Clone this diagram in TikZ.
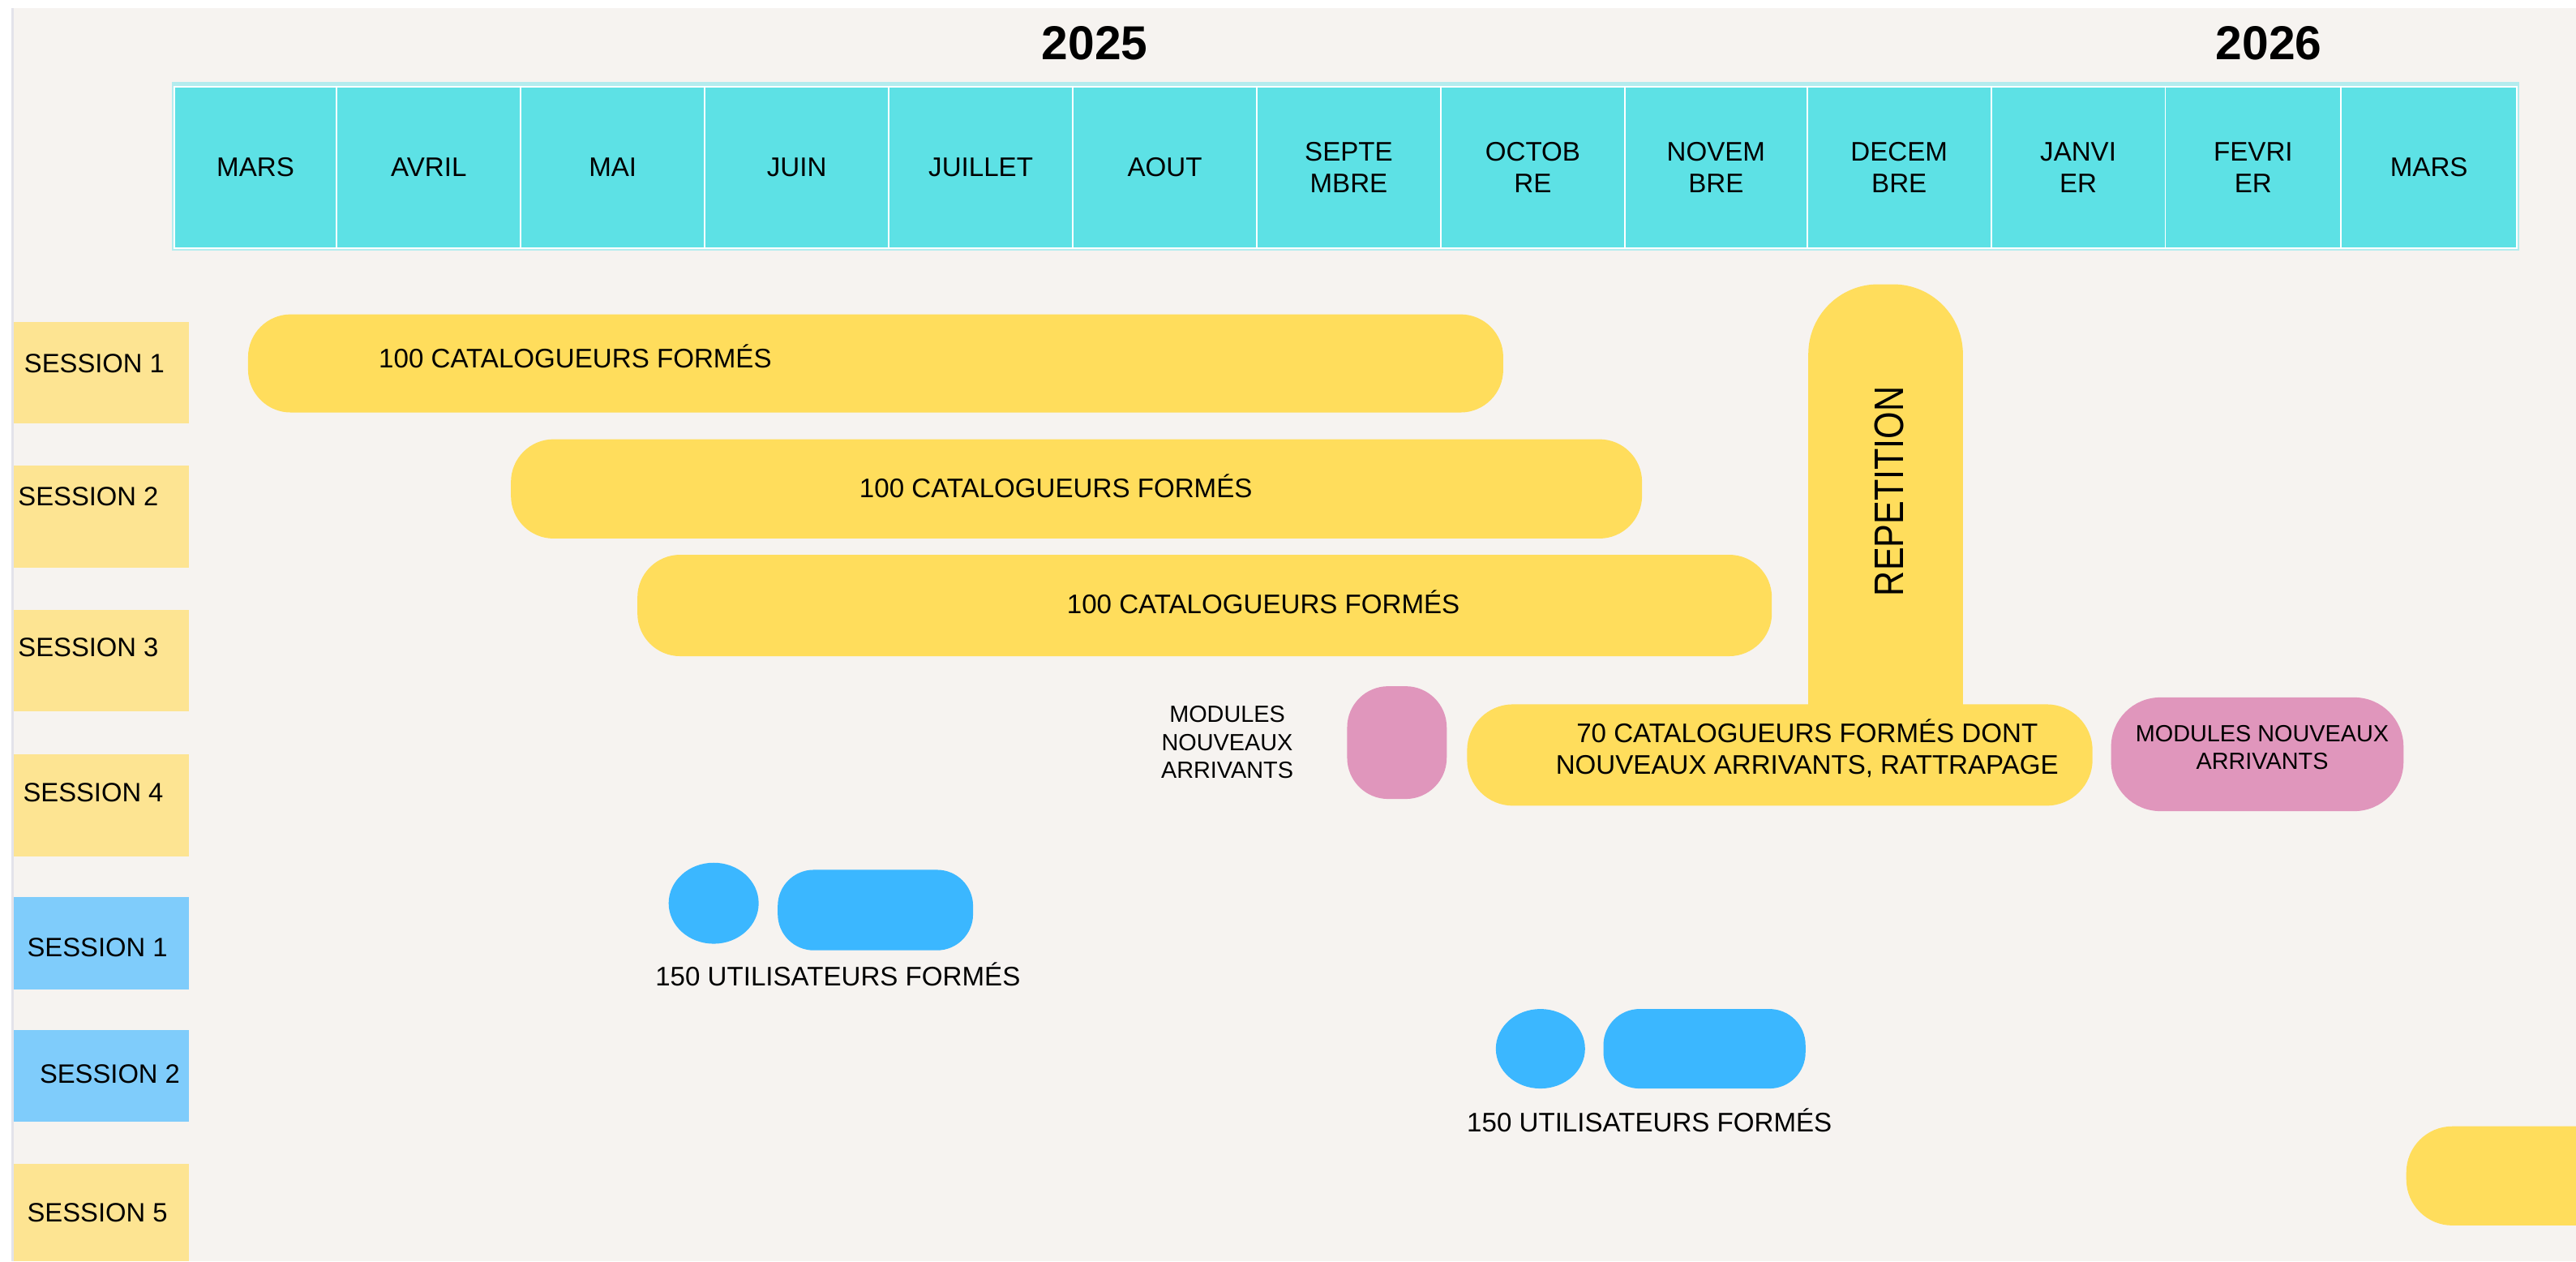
\documentclass[tikz,border=0pt]{standalone}
\usepackage{fontspec}
\usepackage{graphicx}
\setmainfont{Liberation Sans}
\usepackage{tikz}

\definecolor{bgbeige}{HTML}{F6F3F0}
\definecolor{edgegrey}{HTML}{E3E3EA}
\definecolor{hcyan}{HTML}{5DE1E5}
\definecolor{hpale}{HTML}{B3ECEE}
\definecolor{bary}{HTML}{FFDD5C}
\definecolor{sesy}{HTML}{FDE492}
\definecolor{sesb}{HTML}{7FCCFB}
\definecolor{ublue}{HTML}{3BB7FF}
\definecolor{mpink}{HTML}{E096BC}

\begin{document}
\begin{tikzpicture}[x=0.02cm, y=-0.02cm,
  every node/.style={inner sep=0pt, outer sep=0pt},
  month/.style={fill=hcyan, draw=white, line width=0.5pt, minimum height=1.966cm, align=center, font=\fontsize{9.3}{10.9}\selectfont},
  year/.style={font=\bfseries\fontsize{16.5}{20}\selectfont},
  sess/.style={anchor=west, font=\fontsize{9.2}{11}\selectfont, text height=6.6pt, text depth=0pt},
  info/.style={font=\fontsize{9.3}{11.2}\selectfont, text height=6.7pt, text depth=0pt},
  infotwo/.style={font=\fontsize{9.3}{11.2}\selectfont, align=center},
  mods/.style={font=\fontsize{8.1}{9.7}\selectfont, align=center}]
\useasboundingbox (0,0) rectangle (1568,767.5);
\clip (0,0) rectangle (1568,767.5);
\fill[white] (0,0) rectangle (1568,767.5);
\fill[bgbeige] (8.2,4.9) rectangle (1568,767.5);
\draw[edgegrey, line width=0.7pt] (7.6,4.9) -- (7.6,767.5);
% Years
\node[year] (y1) at (666.3,26.2) {2025};
\node[year] (y2) at (1381,26.2) {2026};
% Months
\fill[hpale] (104.6,49.7) rectangle (1533.5,152.5);
\node[month, minimum width=1.98cm] (m1) at (155.5,101.85) {MARS};
\node[month, minimum width=2.24cm] (m2) at (261,101.85) {AVRIL};
\node[month, minimum width=2.24cm] (m3) at (373,101.85) {MAI};
\node[month, minimum width=2.24cm] (m4) at (485,101.85) {JUIN};
\node[month, minimum width=2.24cm] (m5) at (597,101.85) {JUILLET};
\node[month, minimum width=2.24cm] (m6) at (709,101.85) {AOUT};
\node[month, minimum width=2.24cm] (m7) at (821,101.85) {SEPTE\\MBRE};
\node[month, minimum width=2.24cm] (m8) at (933,101.85) {OCTOB\\RE};
\node[month, minimum width=2.22cm] (m9) at (1044.5,101.85) {NOVEM\\BRE};
\node[month, minimum width=2.24cm] (m10) at (1156,101.85) {DECEM\\BRE};
\node[month, minimum width=2.12cm] (m11) at (1265,101.85) {JANVI\\ER};
\node[month, minimum width=2.14cm] (m12) at (1371.5,101.85) {FEVRI\\ER};
\node[month, minimum width=2.14cm] (m13) at (1478.5,101.85) {MARS};
% Sessions
\fill[sesy] (8.2,195.9) rectangle (115,257.4);
\fill[sesy] (8.2,283.2) rectangle (115,345.5);
\fill[sesy] (8.2,371) rectangle (115,433);
\fill[sesy] (8.2,459) rectangle (115,521);
\fill[sesb] (8.2,546) rectangle (115,602);
\fill[sesb] (8.2,627) rectangle (115,682.5);
\fill[sesy] (8.2,708) rectangle (115,767.5);
\node[sess] (s1) at (14.8,221) {SESSION 1};
\node[sess] (s2) at (11.1,302) {SESSION 2};
\node[sess] (s3) at (11.1,393.7) {SESSION 3};
\node[sess] (s4) at (14.1,482) {SESSION 4};
\node[sess] (s5) at (16.6,576.2) {SESSION 1};
\node[sess] (s6) at (24.2,653.3) {SESSION 2};
\node[sess] (s7) at (16.6,737.5) {SESSION 5};
% Bars
\fill[bary, rounded corners=0.52cm] (151,191.3) rectangle (915,251);
\fill[bary, rounded corners=0.52cm] (311,267.3) rectangle (999.5,327.7);
\fill[bary, rounded corners=0.52cm] (388,337.6) rectangle (1078.5,399.3);
\fill[bary, rounded corners=0.85cm] (1100.7,173) rectangle (1194.8,480);
\fill[bary, rounded corners=0.56cm] (893,428.6) rectangle (1273.7,490.3);
\fill[bary, rounded corners=0.56cm] (1464.7,685.4) rectangle (1640,745.7);
\fill[mpink, rounded corners=0.5cm] (820,417.6) rectangle (880.6,486.2);
\fill[mpink, rounded corners=0.6cm] (1285,424.4) rectangle (1463,493.6);
\fill[ublue] (434.4,549.65) ellipse [x radius=0.548cm, y radius=0.493cm];
\fill[ublue, rounded corners=0.44cm] (473.4,529.3) rectangle (592.3,578.3);
\fill[ublue] (937.65,638.2) ellipse [x radius=0.543cm, y radius=0.484cm];
\fill[ublue, rounded corners=0.44cm] (976,614) rectangle (1099,662.4);
% Texts
\node[info, anchor=west] (t1) at (230.6,218) {100 CATALOGUEURS FORMÉS};
\node[info] (t2) at (642.7,297) {100 CATALOGUEURS FORMÉS};
\node[info] (t3) at (769,367.4) {100 CATALOGUEURS FORMÉS};
\node[rotate=90, font=\fontsize{12.1}{14}\selectfont] (rep) at (1150,299) {\scalebox{1}[1.18]{REPETITION}};
\node[infotwo] (t4) at (1100,455.4) {70 CATALOGUEURS FORMÉS DONT\\NOUVEAUX ARRIVANTS, RATTRAPAGE};
\node[mods] (t5) at (747,451.7) {MODULES\\NOUVEAUX\\ARRIVANTS};
\node[mods] (t6) at (1377,454.9) {MODULES NOUVEAUX\\ARRIVANTS};
\node[info] (t7) at (510,594.2) {150 UTILISATEURS FORMÉS};
\node[info] (t8) at (1004,682.9) {150 UTILISATEURS FORMÉS};
\end{tikzpicture}
\end{document}
